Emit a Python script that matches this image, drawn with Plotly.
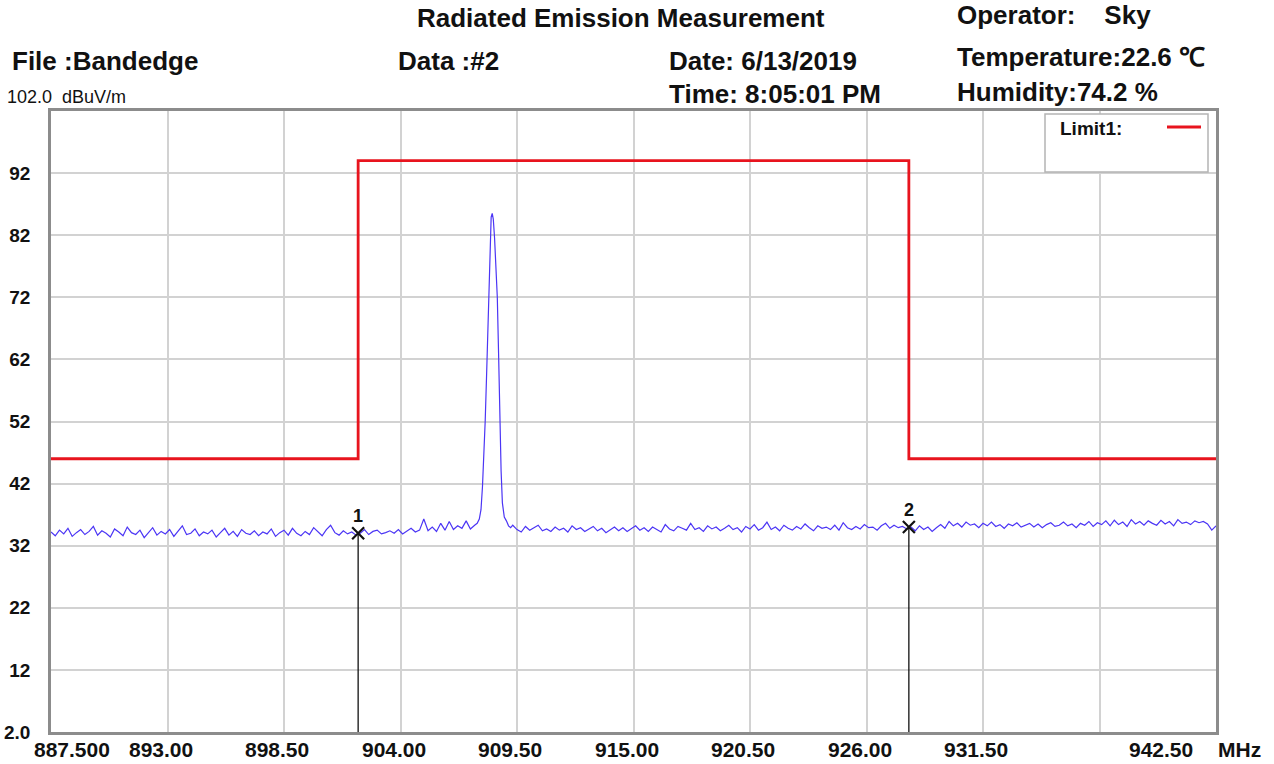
import plotly.graph_objects as go
import numpy as np

# ---------------- data ----------------
# noise floor below the carrier, 887.5 .. 907.5 MHz, 0.2 MHz step
low_start, low_step = 887.5, 0.2
low_level = [
    34.2, 33.6, 34.5, 33.9, 34.8, 33.5, 34.1, 34.6, 33.8, 34.3,
    35.1, 33.7, 34.4, 34.0, 33.4, 34.7, 34.2, 33.6, 35.0, 34.1,
    33.8, 34.5, 33.3, 34.2, 34.9, 33.7, 34.3, 33.9, 34.6, 33.5,
    34.4, 35.2, 33.8, 34.0, 34.7, 33.6, 34.2, 33.9, 34.5, 33.4,
    34.1, 34.8, 33.7, 34.3, 33.5, 34.6, 34.0, 33.8, 34.4, 33.6,
    34.2, 33.9, 34.7, 33.5, 34.1, 34.5, 33.7, 34.8, 34.0, 33.6,
    34.3, 33.8, 34.9, 34.2, 33.6, 34.6, 35.3, 34.1, 33.7, 34.4,
    33.9, 34.2, 33.7, 34.0, 34.6, 33.8, 34.3, 34.5, 33.9, 34.1,
    34.4, 34.0, 34.6, 33.9, 34.3, 34.8, 34.2, 34.5, 36.3, 34.4,
    35.0, 34.3, 35.6, 34.5, 35.9, 34.6, 35.2, 34.8, 36.0, 34.7,
    35.3,
]
# carrier
peak_freq = [907.62, 907.72, 907.8, 907.87, 907.94, 908.0, 908.06, 908.12,
             908.18, 908.23, 908.28, 908.33, 908.38, 908.44, 908.5, 908.57,
             908.63, 908.69, 908.75, 908.81, 908.9, 909.0, 909.1, 909.2, 909.3]
peak_level = [35.6, 36.3, 37.8, 41.5, 46.5, 52.2, 59.0, 66.2,
              76.8, 82.7, 84.9, 85.5, 84.6, 81.6, 76.5, 72.0,
              63.0, 52.2, 44.0, 38.9, 36.6, 36.0, 35.2, 34.9, 35.3]
# noise floor above the carrier, 909.5 .. 942.5 MHz, 0.2 MHz step
high_start, high_step = 909.5, 0.2
high_level = [
    34.6, 34.2, 35.1, 34.5, 34.9, 35.3, 34.4, 34.7, 34.3, 35.0,
    34.5, 34.8, 34.2, 35.2, 34.6, 34.9, 34.3, 34.7, 35.1, 34.4,
    34.8, 34.1, 34.6, 35.0, 34.4, 34.9, 34.3, 34.7, 35.2, 34.5,
    34.9, 34.3, 35.0, 34.6, 34.2, 35.4, 34.7, 34.4, 35.1, 34.8,
    34.5, 35.6, 34.6, 34.9, 34.3, 35.2, 34.7, 35.0, 34.4, 34.8,
    35.3, 34.6, 34.9, 34.2, 35.1, 34.7, 35.4, 34.5, 34.9, 35.8,
    34.6, 35.0, 34.4, 35.3, 34.8, 34.5, 35.1, 34.7, 35.5, 34.9,
    34.4, 35.2, 34.8, 35.0, 34.6, 35.3, 34.5, 35.7, 34.9, 34.6,
    35.1, 34.7, 35.4, 34.9, 35.0, 34.5, 35.2, 35.6, 34.8, 35.3,
    34.9, 35.1, 34.7, 35.0, 34.4, 35.2, 34.6, 35.0, 34.3, 34.9,
    35.4, 34.8, 35.9, 35.2, 35.6, 35.0, 35.8, 35.3, 35.5, 34.9,
    35.6, 35.2, 35.8, 35.1, 35.4, 34.8, 35.5, 35.2, 35.7, 35.0,
    35.3, 35.6, 35.0, 35.5, 34.9, 35.4, 35.7, 35.1, 35.3, 35.8,
    35.2, 35.5, 34.9, 35.6, 35.3, 35.9, 35.1, 35.7, 35.4, 36.0,
    35.2, 36.1, 35.4, 35.8, 35.1, 36.2, 35.5, 35.9, 35.3, 36.0,
    35.6, 35.3, 36.1, 35.5, 35.9, 35.2, 36.2, 35.6, 35.8, 35.4,
    36.0, 35.7, 35.9, 35.5, 34.5, 35.2,
]
limit_freq = [887.5, 902.0, 902.0, 928.0, 928.0, 942.5]
limit_level = [46.0, 46.0, 94.0, 94.0, 46.0, 46.0]
marker_freq = [902.0, 928.0]
marker_level = [34.0, 35.0]
marker_names = ["1", "2"]

x_tick_vals = [887.5, 893.0, 898.5, 904.0, 909.5, 915.0, 920.5, 926.0, 931.5, 942.5]
x_tick_text = ["887.500", "893.00", "898.50", "904.00", "909.50", "915.00",
               "920.50", "926.00", "931.50", "942.50"]
y_tick_vals = [2, 12, 22, 32, 42, 52, 62, 72, 82, 92]
y_tick_text = ["2.0", "12", "22", "32", "42", "52", "62", "72", "82", "92"]

# ---------------- build ----------------
low_freq = low_start + low_step * np.arange(len(low_level))
high_freq = high_start + high_step * np.arange(len(high_level))
freq = np.concatenate([low_freq, peak_freq, high_freq])
level = np.concatenate([low_level, peak_level, high_level])

W, H = 1274, 764
L, R, T, B = 51, 58, 111, 32
pw, ph = W - L - R, H - T - B

def px(x):
    return (x - L) / pw

def py(y):
    return (H - B - y) / ph

ARIAL = "Arial, Liberation Sans, sans-serif"
INK = "#111111"
fig = go.Figure()

fig.add_trace(go.Scatter(x=limit_freq, y=limit_level, mode="lines",
                         line=dict(color="#e8141e", width=2.8), hoverinfo="skip"))
fig.add_trace(go.Scatter(x=freq, y=level, mode="lines",
                         line=dict(color="#4b35f5", width=1.2), hoverinfo="skip"))

annotations = []
for f, lv, nm in zip(marker_freq, marker_level, marker_names):
    fig.add_trace(go.Scatter(x=[f, f], y=[2, lv], mode="lines",
                             line=dict(color=INK, width=1.3), hoverinfo="skip"))
    fig.add_trace(go.Scatter(x=[f], y=[lv], mode="markers",
                             marker=dict(symbol="x-thin", size=12,
                                         line=dict(color=INK, width=2.2)),
                             hoverinfo="skip"))
    annotations.append(dict(x=f, y=lv, xref="x", yref="y", text="<b>%s</b>" % nm,
                            showarrow=False, yshift=17,
                            font=dict(family=ARIAL, size=18, color=INK)))

# x tick labels
for v, t in zip(x_tick_vals, x_tick_text):
    shift = -7
    if v == x_tick_vals[0]:
        shift = 21
    elif v == x_tick_vals[-1]:
        shift = -55
    annotations.append(dict(x=v, xref="x", y=0, yref="paper", text="<b>%s</b>" % t,
                            showarrow=False, yanchor="top", yshift=-4, xshift=shift,
                            font=dict(family=ARIAL, size=21, color=INK)))
annotations.append(dict(x=1, xref="paper", y=0, yref="paper", text="<b>MHz</b>",
                        showarrow=False, yanchor="top", xanchor="left", yshift=-4, xshift=0,
                        font=dict(family=ARIAL, size=21, color=INK)))

def header(text, x, y, size=26, anchor="left", bold=True):
    t = "<b>%s</b>" % text if bold else text
    annotations.append(dict(x=px(x), y=py(y), xref="paper", yref="paper", text=t,
                            showarrow=False, xanchor=anchor, yanchor="middle",
                            font=dict(family=ARIAL, size=size, color=INK)))

header("Radiated Emission Measurement", 621, 18, size=26, anchor="center")
header("Operator:&nbsp;&nbsp;&nbsp;&nbsp;Sky", 955, 15)
header("File :Bandedge", 10, 61)
header("Data :#2", 396, 61)
header("Date: 6/13/2019", 667, 61)
header("Temperature:22.6 ℃", 955, 57)
header("Time: 8:05:01 PM", 667, 94)
header("Humidity:74.2 %", 955, 92)
header("102.0&nbsp;&nbsp;dBuV/m", 5, 97, size=18, bold=False)

# legend box
annotations.append(dict(x=px(1058), y=py(128), xref="paper", yref="paper",
                        text="<b>Limit1:</b>", showarrow=False, xanchor="left",
                        yanchor="middle", font=dict(family=ARIAL, size=19, color=INK)))

shapes = [
    dict(type="rect", xref="paper", yref="paper", x0=px(1045), x1=px(1208),
         y0=py(172), y1=py(114), fillcolor="white",
         line=dict(color="#b4b4b4", width=1.5), layer="above"),
    dict(type="line", xref="paper", yref="paper", x0=px(1167), x1=px(1201),
         y0=py(127), y1=py(127), line=dict(color="#e8141e", width=2.8), layer="above"),
]

fig.update_layout(
    width=W, height=H,
    margin=dict(l=L, r=R, t=T, b=B, pad=0, autoexpand=False),
    paper_bgcolor="white", plot_bgcolor="white",
    showlegend=False,
    annotations=annotations,
    shapes=shapes,
    xaxis=dict(range=[887.5, 942.5], tick0=887.5, dtick=5.5, showgrid=True,
               gridcolor="#d2d2d2", gridwidth=1.5, showticklabels=False, ticks="",
               zeroline=False, showline=True, mirror=True, linecolor="#8c8c8c",
               linewidth=2.5, automargin=False),
    yaxis=dict(range=[2, 102], tickvals=y_tick_vals, ticktext=y_tick_text,
               showgrid=True, gridcolor="#d2d2d2", gridwidth=1.5, ticks="",
               ticklabelstandoff=14, zeroline=False, showline=True, mirror=True,
               linecolor="#8c8c8c", linewidth=2.5, automargin=False,
               tickfont=dict(family=ARIAL, size=19, color=INK, weight="bold")),
)

fig.write_html("out.html",
               config={"displayModeBar": False},
               post_script="document.body.style.margin='0px';document.body.style.padding='0px';")
